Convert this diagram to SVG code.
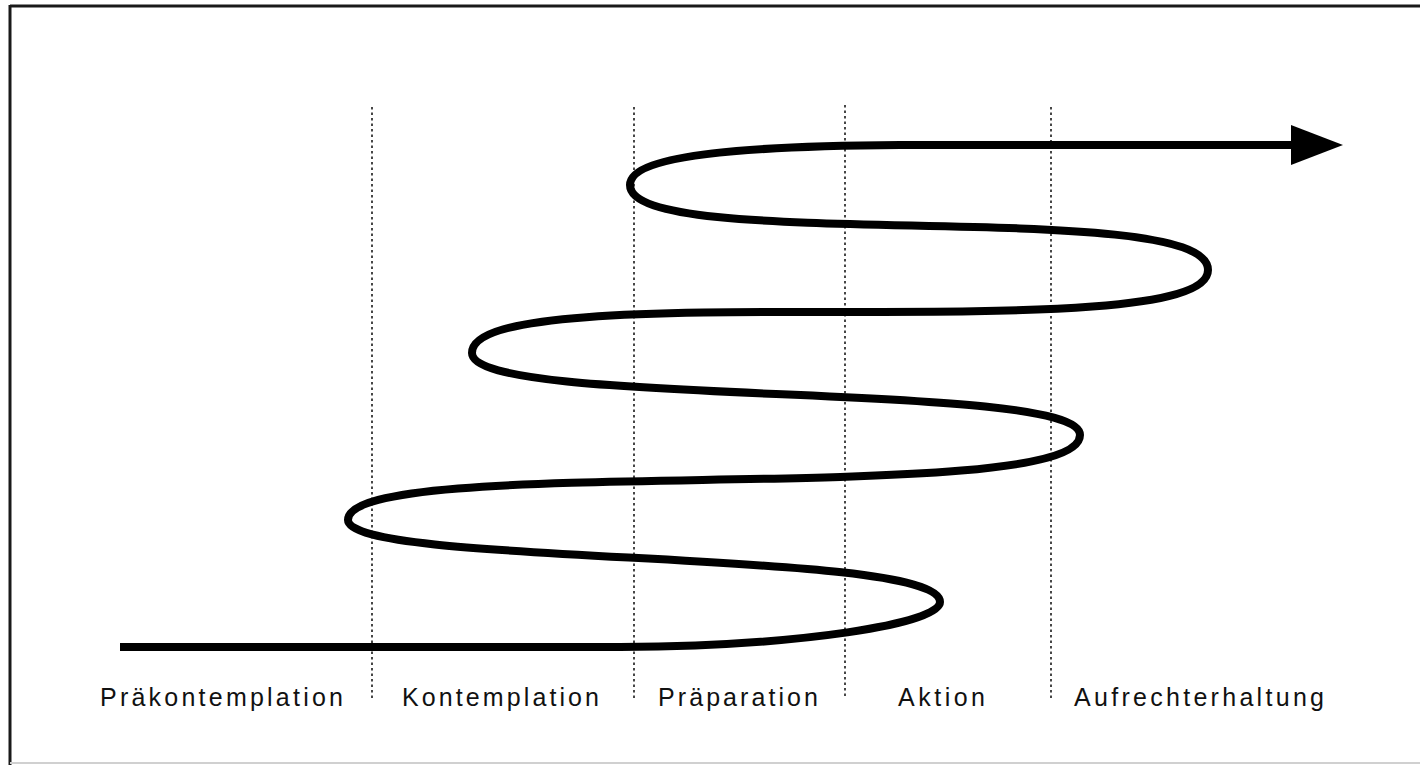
<svg xmlns="http://www.w3.org/2000/svg" width="1420" height="765" viewBox="0 0 1420 765">
  <style>
    .frame { stroke: #1a1a1a; stroke-width: 3; fill: none; }
    .divider { stroke: #1a1a1a; stroke-width: 1.6; stroke-dasharray: 2.5 3; fill: none; }
    .spiral { stroke: #000; stroke-width: 8; fill: none; stroke-linejoin: round; }
    .label { font-family: "Liberation Sans", Arial, sans-serif; font-size: 25px; fill: #111; }
  </style>
  <defs>
    <marker id="arrowhead" markerUnits="userSpaceOnUse" markerWidth="52" markerHeight="42" viewBox="0 0 52 42" refX="1" refY="21" orient="auto">
      <polygon points="0,1 52,21 0,41" fill="#000"/>
    </marker>
  </defs>
  <rect width="1420" height="765" fill="#fff"/>
  <g id="frame">
    <line class="frame" x1="10" y1="6" x2="1420" y2="6"/>
    <line class="frame" x1="10" y1="5" x2="10" y2="765"/>
    <line x1="10" y1="763" x2="1420" y2="763" stroke="#d0d0d0" stroke-width="2"/>
  </g>
  <g id="dividers">
    <line class="divider" x1="372" y1="107" x2="372" y2="700"/>
    <line class="divider" x1="634" y1="107" x2="634" y2="700"/>
    <line class="divider" x1="845" y1="105" x2="845" y2="698"/>
    <line class="divider" x1="1051" y1="107" x2="1051" y2="698"/>
  </g>
  <g id="connectors">
    <path class="spiral" marker-end="url(#arrowhead)" d="M120,647 L620,647 C800,646 940,624 940,602 C940,548 348,567 348,520 C348,451 1080,510 1080,435 C1080,379 472,409 472,353 C472,271 1208,353 1208,270 C1208,195 630,255 630,185 C630,153 760,146 900,145 L1292,145"/>
  </g>
  <g id="stage-praekontemplation">
    <text class="label" x="100" y="706" textLength="243" lengthAdjust="spacing">Präkontemplation</text>
  </g>
  <g id="stage-kontemplation">
    <text class="label" x="402" y="706" textLength="197" lengthAdjust="spacing">Kontemplation</text>
  </g>
  <g id="stage-praeparation">
    <text class="label" x="658" y="706" textLength="160" lengthAdjust="spacing">Präparation</text>
  </g>
  <g id="stage-aktion">
    <text class="label" x="898" y="706" textLength="87" lengthAdjust="spacing">Aktion</text>
  </g>
  <g id="stage-aufrechterhaltung">
    <text class="label" x="1074" y="706" textLength="250" lengthAdjust="spacing">Aufrechterhaltung</text>
  </g>
</svg>
